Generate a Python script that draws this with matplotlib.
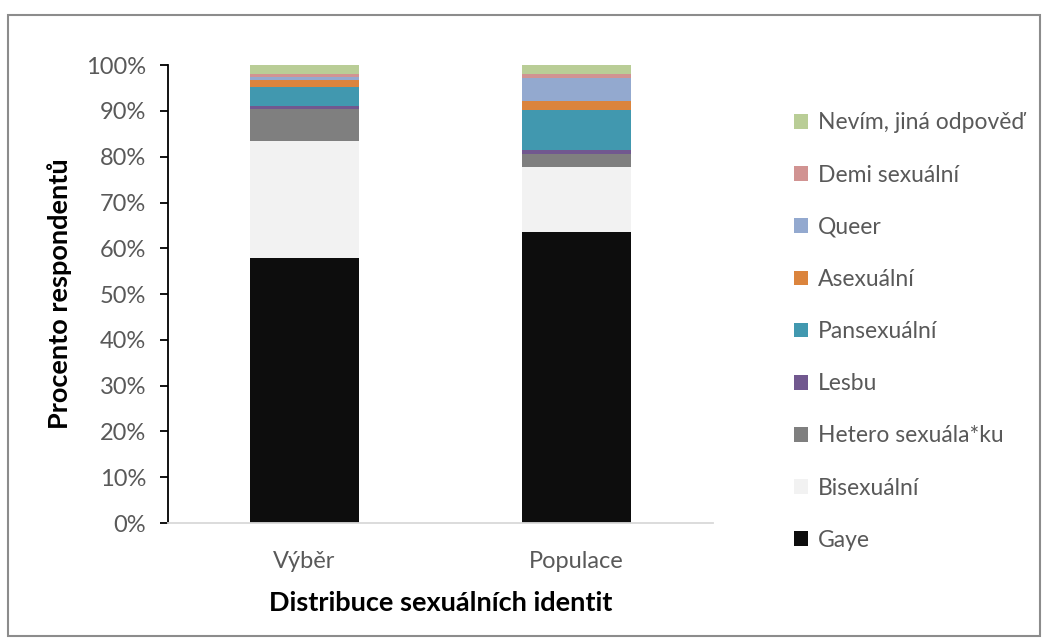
import matplotlib
matplotlib.use("Agg")
import matplotlib.pyplot as plt
from matplotlib.patches import Rectangle

plt.rcParams['font.family'] = ['Lato', 'DejaVu Sans']

groups = ['Výběr', 'Populace']
labels = ['Gaye', 'Bisexuální', 'Hetero sexuála*ku', 'Lesbu', 'Pansexuální',
          'Asexuální', 'Queer', 'Demi sexuální', 'Nevím, jiná odpověď']
vyber = [57.8, 25.7, 6.9, 0.65, 4.2, 1.5, 0.74, 0.65, 1.8]
populace = [63.5, 14.3, 2.8, 0.94, 8.7, 1.9, 5.0, 1.0, 1.9]
colors = ['#0d0d0d', '#f2f2f2', '#7f7f7f', '#71588f', '#4198af',
          '#db843d', '#93a9cf', '#d19392', '#b9cd96']

fig = plt.figure(figsize=(10.51, 6.39), dpi=100)
ax = fig.add_axes([0.16, 0.1815, 0.518, 0.7165])

bottom = [0, 0]
for lab, v1, v2, c in zip(labels, vyber, populace, colors):
    ax.bar([0, 1], [v1, v2], width=0.4, bottom=bottom, color=c, label=lab)
    bottom = [bottom[0] + v1, bottom[1] + v2]

ax.set_xlim(-0.5, 1.5)
ax.set_ylim(0, 100)
ax.set_yticks(range(0, 101, 10))
ax.set_yticklabels([f'{t}%' for t in range(0, 101, 10)])
ax.set_xticks([0, 1])
ax.set_xticklabels(groups)
ax.tick_params(axis='y', colors='black', labelcolor='#595959', labelsize=17,
               length=6, width=1.3, pad=10)
ax.tick_params(axis='x', length=0, labelcolor='#595959', labelsize=17, pad=20)

for s in ['top', 'right']:
    ax.spines[s].set_visible(False)
ax.spines['left'].set_color('black')
ax.spines['left'].set_linewidth(1.3)
ax.spines['bottom'].set_color('#d9d9d9')
ax.spines['bottom'].set_linewidth(1.3)

ax.set_ylabel('Procento respondentů', fontsize=19.5, fontweight='bold', labelpad=10)
ax.set_xlabel('Distribuce sexuálních identit', fontsize=19.5, fontweight='bold', labelpad=14)

handles, labs = ax.get_legend_handles_labels()
leg = fig.legend(handles[::-1], labs[::-1], loc='center left',
                 bbox_to_anchor=(0.736, 0.481), frameon=False, fontsize=16.5,
                 handlelength=0.6, handleheight=0.6, handletextpad=0.45,
                 labelspacing=1.36, labelcolor='#595959')

fig.patches.append(Rectangle((0.008, 0.005), 0.982, 0.972, transform=fig.transFigure,
                             fill=False, edgecolor='#8c8c8c', linewidth=1.5))

fig.savefig('out.png', dpi=100)
